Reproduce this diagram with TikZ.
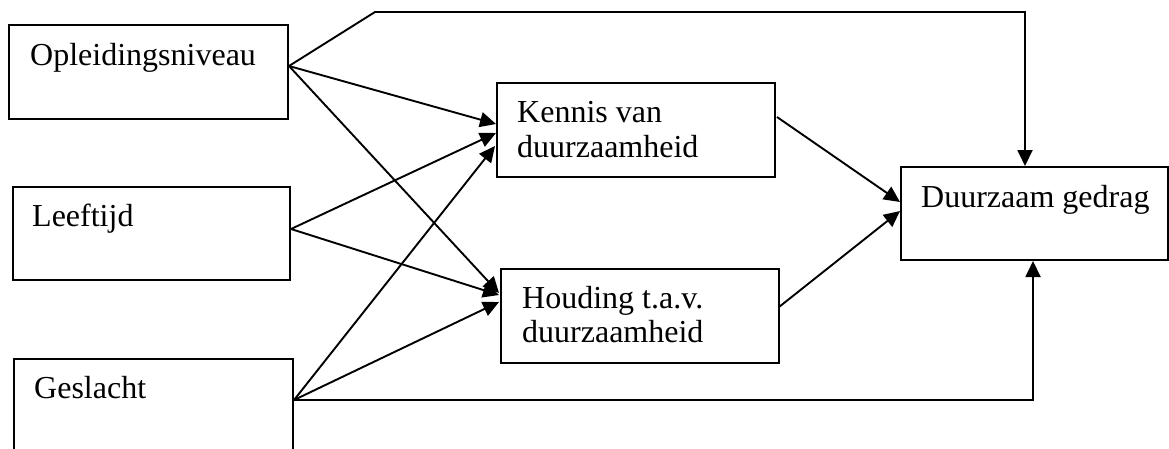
\documentclass[tikz,border=0pt]{standalone}
\usepackage{fontspec}
\setmainfont{Liberation Serif}
\usetikzlibrary{arrows.meta,calc}
\begin{document}
\begin{tikzpicture}[x=1pt,y=-1pt,
  box/.style={draw,line width=2pt,rectangle,inner sep=0pt,anchor=north west},
  lbl/.style={anchor=base west,inner sep=0pt,font=\fontsize{32}{36}\selectfont},
  conn/.style={line width=1.9pt},
  arr/.style={conn,-{Triangle[length=16pt,width=15pt]}}]
\useasboundingbox (0,0) rectangle (1169,448);
\clip (0,0) rectangle (1169,448);
% boxes
\node[box,minimum width=279pt,minimum height=94pt] (op) at (8,24) {};
\node[box,minimum width=277pt,minimum height=93pt] (lt) at (12,186) {};
\node[box,minimum width=279pt,minimum height=110pt] (gs) at (13,358) {};
\node[box,minimum width=278pt,minimum height=94pt] (ken) at (496,82) {};
\node[box,minimum width=278pt,minimum height=94pt] (hou) at (500,268) {};
\node[box,minimum width=267pt,minimum height=93pt] (dg) at (900,166) {};
% labels
\node[lbl] (opt) at (30,65) {Opleidingsniveau};
\node[lbl] (ltt) at (32,226) {Leeftijd};
\node[lbl] (gst) at (34,398) {Geslacht};
\node[lbl] (kent1) at (517,122) {Kennis van};
\node[lbl] (kent2) at (517,157) {duurzaamheid};
\node[lbl] (hout1) at (522,308) {Houding t.a.v.};
\node[lbl] (hout2) at (522,342) {duurzaamheid};
\node[lbl] (dgt) at (921,207) {Duurzaam gedrag};
% connection points
\coordinate (opout) at ($(op.north east)+(0,42)$);
\coordinate (ltout) at ($(lt.north east)+(0,43)$);
\coordinate (gsout) at ($(gs.north east)+(0,42)$);
\coordinate (kenout) at ($(ken.north east)+(1,35)$);
\coordinate (houout) at ($(hou.north east)+(-1,39)$);
\coordinate (tl) at (375,12);
\coordinate (tr) at (1025,12);
\coordinate (br) at (1033,400);
% connectors
\draw[arr] (opout) -- (tl) -- (tr) -- (tr |- dg.north);
\draw[arr] (opout) -- ($(ken.north west)+(0,42)$);
\draw[arr] (opout) -- ($(hou.north west)+(-1,25)$);
\draw[arr] (ltout) -- ($(ken.north west)+(0,51)$);
\draw[arr] (ltout) -- ($(hou.north west)+(-1,27)$);
\draw[arr] (gsout) -- ($(ken.north west)+(-1,64)$);
\draw[arr] (gsout) -- ($(hou.north west)+(-1,34)$);
\draw[arr] (gsout) -- (br) -- (br |- dg.south);
\draw[arr] (kenout) -- ($(dg.north west)+(0,36)$);
\draw[arr] (houout) -- ($(dg.north west)+(0,45)$);
\end{tikzpicture}
\end{document}
